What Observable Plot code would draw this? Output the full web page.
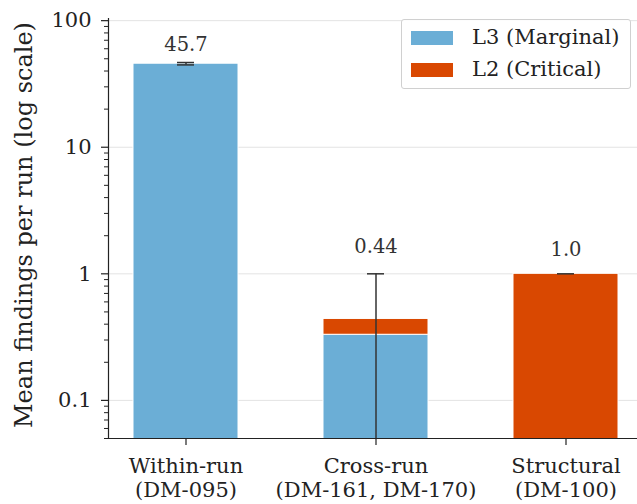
<!DOCTYPE html>
<html>
<head>
<meta charset="utf-8">
<script src="https://cdn.jsdelivr.net/npm/d3@7"></script>
<script src="https://cdn.jsdelivr.net/npm/@observablehq/plot@0.6"></script>
<style>
  html, body { margin: 0; padding: 0; background: #fff; }
  #wrap { position: relative; width: 637px; height: 504px; font-family: "DejaVu Serif", serif; }
  #legend { position: absolute; left: 401px; top: 19px; width: 230px; height: 70px; border: 1px solid #d0d0d0; background: rgba(255,255,255,0.9); border-radius: 3px; box-sizing: border-box; }
  .item { position: absolute; left: 9px; display: flex; align-items: center; font-size: 21px; color: #222; line-height: 1; }
  .sw { width: 42px; height: 14px; margin-right: 19px; }
</style>
</head>
<body>
<div id="wrap"></div>
<script>
const categories = ["Within-run\n(DM-095)", "Cross-run\n(DM-161, DM-170)", "Structural\n(DM-100)"];
const l3Values = [45.7, 0.33, 0];
const l2Values = [0, 0.11, 1.0];
const totals = [45.7, 0.44, 1.0];
const errors = [1.0, 0.56, 0];
const valueLabels = ["45.7", "0.44", "1.0"];
const seriesNames = ["L3 (Marginal)", "L2 (Critical)"];
const colors = ["#6baed6", "#d94801"];
const majorTicks = [0.1, 1, 10, 100];
const majorTickLabels = ["0.1", "1", "10", "100"];
const yDomain = [0.05, 104];
const labelOffsets = [-18, -27, -24];

const minorTicks = [];
for (const d of [0.01, 0.1, 1, 10]) for (let k = 2; k <= 9; k++) {
  const v = +(d * k).toPrecision(3);
  if (v >= yDomain[0] && v <= yDomain[1] && !majorTicks.includes(v)) minorTicks.push(v);
}

const segs = [];
categories.forEach((c, i) => {
  if (l3Values[i] > 0) segs.push({cat: c, series: seriesNames[0], y1: yDomain[0] * 0.5, y2: l3Values[i]});
  if (l2Values[i] > 0) segs.push({cat: c, series: seriesNames[1], y1: l3Values[i] > 0 ? l3Values[i] : yDomain[0] * 0.5, y2: l3Values[i] + l2Values[i]});
});
const errs = categories.map((c, i) => ({
  cat: c, lo: Math.max(totals[i] - errors[i], yDomain[0] * 0.5), hi: totals[i] + errors[i],
  loVisible: totals[i] - errors[i] > yDomain[0], label: valueLabels[i]
}));

const font = "DejaVu Serif";
const chart = Plot.plot({
  width: 637,
  height: 504,
  marginLeft: 108,
  marginRight: 0,
  marginTop: 18,
  marginBottom: 66,
  style: {fontFamily: font, background: "transparent"},
  x: {type: "band", domain: categories, range: [90, 660], paddingInner: 0.45, paddingOuter: 0.225, label: null},
  y: {type: "log", domain: yDomain, label: null},
  color: {domain: seriesNames, range: colors},
  marks: [
    Plot.ruleY(majorTicks, {stroke: "#e3e3e3", strokeWidth: 1}),
    Plot.rectY(segs, {x: "cat", y1: "y1", y2: "y2", fill: "series", stroke: "white", strokeWidth: 1, clip: true}),
    Plot.ruleX(errs, {x: "cat", y1: "lo", y2: "hi", stroke: "#333", strokeWidth: 1.5, clip: true}),
    Plot.tickY(errs, {x: "cat", y: "hi", stroke: "#333", strokeWidth: 1.5, insetLeft: 44, insetRight: 44}),
    Plot.tickY(errs.filter(d => d.loVisible && d.hi !== d.lo), {x: "cat", y: "lo", stroke: "#333", strokeWidth: 1.5, insetLeft: 44, insetRight: 44}),
    ...errs.map((d, i) => Plot.text([d], {x: "cat", y: "hi", text: "label", dy: labelOffsets[i], fontSize: 19.5, fill: "#333", fontFamily: font})),
    Plot.axisY(minorTicks, {tickSize: 4, tickFormat: () => "", stroke: "#222", strokeWidth: 1}),
    Plot.axisY(majorTicks, {tickSize: 7, tickPadding: 10, tickFormat: (d) => majorTickLabels[majorTicks.indexOf(d)], fontSize: 21, fill: "#222", stroke: "#222", strokeWidth: 1.2, label: null}),
    Plot.axisX({tickSize: 7, tickPadding: 11, fontSize: 21, fill: "#222", stroke: "#222", strokeWidth: 1.2, lineHeight: 1.12, label: null}),
    Plot.frame({anchor: "left", stroke: "#222", strokeWidth: 1.2}),
    Plot.frame({anchor: "bottom", stroke: "#222", strokeWidth: 1.2}),
    Plot.text(["Mean findings per run (log scale)"], {frameAnchor: "left", textAnchor: "middle", dx: -84, dy: -3.5, rotate: -90, fontSize: 24, fill: "#222", fontFamily: font})
  ]
});
const wrap = document.getElementById("wrap");
wrap.appendChild(chart);
const legend = document.createElement("div");
legend.id = "legend";
seriesNames.forEach((name, i) => {
  const item = document.createElement("div");
  item.className = "item";
  item.style.top = (i === 0 ? 7 : 39) + "px";
  const sw = document.createElement("div");
  sw.className = "sw";
  sw.style.background = colors[i];
  const t = document.createElement("span");
  t.textContent = name;
  item.appendChild(sw); item.appendChild(t);
  legend.appendChild(item);
});
wrap.appendChild(legend);
</script>
</body>
</html>
